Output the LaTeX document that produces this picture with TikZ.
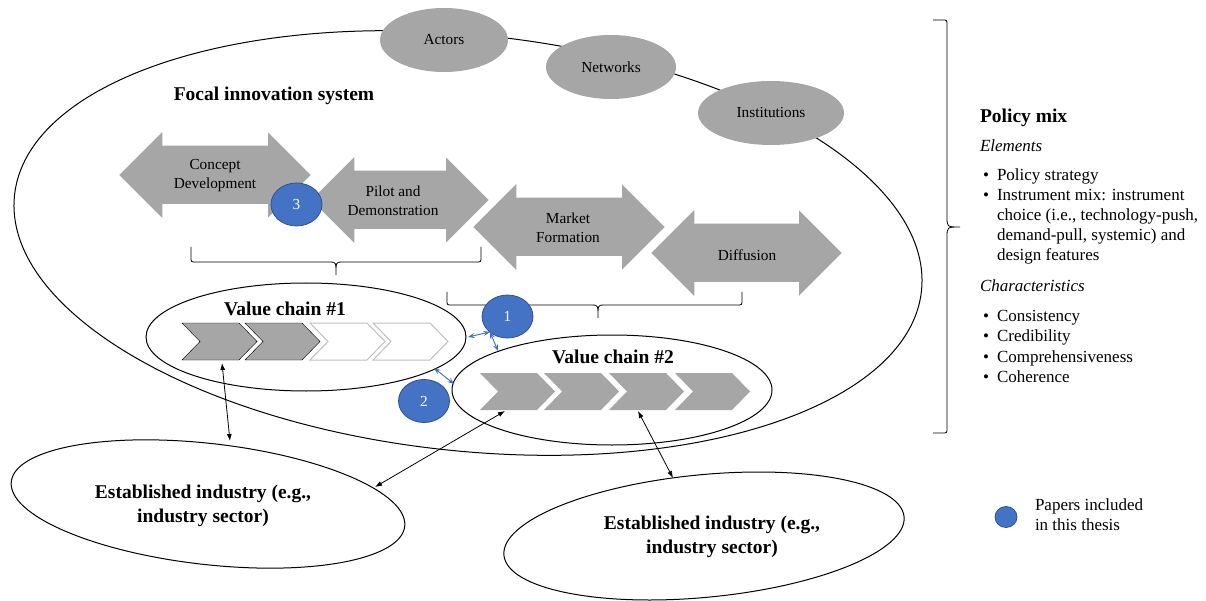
\documentclass[tikz,border=0pt]{standalone}
\usepackage{fontspec}
\setmainfont{Liberation Serif}
\usetikzlibrary{arrows.meta,shapes.geometric}
\definecolor{arrowgray}{HTML}{A6A6A6}
\definecolor{paperblue}{HTML}{4472C4}
\definecolor{paperedge}{HTML}{2F528F}
\definecolor{chevline}{HTML}{BFBFBF}
\newcommand\lblfont{\fontsize{15.3}{19}\selectfont}
\newcommand\txtfont{\fontsize{17}{20.5}\selectfont}
\newcommand\hdfont{\fontsize{19.5}{24}\selectfont\bfseries}
\begin{document}
\begin{tikzpicture}[x=1pt,y=-1pt,
  every node/.style={inner sep=0pt, outer sep=0pt},
  phase/.style={fill=arrowgray, draw=white, line width=1.5pt, line join=miter},
  phaselbl/.style={font=\lblfont, align=center},
  pillar/.style={ellipse, fill=arrowgray, minimum height=64pt, font=\lblfont},
  paper/.style={ellipse, fill=paperblue, draw=paperedge, line width=0.8pt, minimum width=51pt, minimum height=43pt, text=white, font=\lblfont},
  chevfull/.style={fill=arrowgray},
  chevopen/.style={fill=white, draw=chevline, line width=1pt},
  link/.style={{Latex[length=7pt,width=5pt]}-{Latex[length=7pt,width=5pt]}, line width=0.8pt},
  bluelink/.style={{Stealth[length=6.5pt,width=5pt]}-{Stealth[length=6.5pt,width=5pt]}, draw=paperblue, fill=paperblue, line width=0.9pt},
  heading/.style={font=\hdfont, align=center},
  outline/.style={line width=1pt},
  bracket/.style={line width=0.8pt},
  sidetext/.style={font=\txtfont, anchor=base west}
]
\useasboundingbox (0,0) rectangle (1206,601);

% focal innovation system
\draw[outline, rotate around={-6:(468,243)}] (468,243) ellipse [x radius=456, y radius=208];
\node[pillar, minimum width=128pt] (actors) at (444,40) {Actors};
\node[pillar, minimum width=130pt] (networks) at (611,67) {Networks};
\node[pillar, minimum width=146pt] (institutions) at (771,113) {Institutions};
\node[heading] (focal) at (274,96) {Focal innovation system};

% phases
\filldraw[phase] (118,175) -- (163,130) -- (163,145) -- (267,145) -- (267,130) -- (312,175) -- (267,220) -- (267,205) -- (163,205) -- (163,220) -- cycle;
\filldraw[phase] (310,200) -- (355,155) -- (355,170) -- (445,170) -- (445,155) -- (490,200) -- (445,245) -- (445,230) -- (355,230) -- (355,245) -- cycle;
\filldraw[phase] (472,227) -- (517,182) -- (517,197) -- (621,197) -- (621,182) -- (666,227) -- (621,272) -- (621,257) -- (517,257) -- (517,272) -- cycle;
\filldraw[phase] (650,253) -- (695,208) -- (695,223) -- (798,223) -- (798,208) -- (843,253) -- (798,298) -- (798,283) -- (695,283) -- (695,298) -- cycle;
\node[phaselbl] (concept) at (215,176) {Concept\\Development};
\node[phaselbl] (pilot) at (393,201) {Pilot and\\Demonstration};
\node[phaselbl] (market) at (568,228) {Market\\Formation};
\node[phaselbl] (diffusion) at (747,255) {Diffusion};
\node[paper] (p3) at (296.5,204.5) {3};

% braces under phases
\draw[bracket] (191,247) -- (191,257) .. controls (191,262) .. (196,262) -- (330,262) .. controls (336,262) .. (336,275) .. controls (336,262) .. (342,262) -- (476,262) .. controls (481,262) .. (481,257) -- (481,247);
\draw[bracket] (447,292) -- (447,300) .. controls (447,305) .. (452,305) -- (592,305) .. controls (598,305) .. (598,318) .. controls (598,305) .. (604,305) -- (737,305) .. controls (742,305) .. (742,300) -- (742,292);

% value chain 1
\draw[outline] (306,337) ellipse [x radius=160, y radius=54];
\node[heading] (vc1) at (285,309) {Value chain \#1};
\foreach \x/\s in {182/chevfull,245/chevfull,310/chevopen,373/chevopen}
  \filldraw[\s] (\x,323) -- (\x+57,323) -- (\x+75,341.5) -- (\x+57,360) -- (\x,360) -- (\x+18,341.5) -- cycle;

% value chain 2
\draw[outline] (612,390) ellipse [x radius=160, y radius=55];
\node[heading] (vc2) at (613,357) {Value chain \#2};
\foreach \x in {480,544,609,675}
  \fill[chevfull] (\x,373) -- (\x+57,373) -- (\x+75,391.5) -- (\x+57,410) -- (\x,410) -- (\x+18,391.5) -- cycle;

% papers 1 and 2
\node[paper] (p1) at (507.5,316.5) {1};
\node[paper] (p2) at (424,401) {2};
\coordinate (j1) at (490,332);
\coordinate (vc1r) at (468,337);
\coordinate (vc2t) at (498,351);
\coordinate (vc1b) at (434,368);
\coordinate (vc2l) at (454,384);
\draw[bluelink] (j1) -- (vc1r);
\draw[bluelink] (j1) -- (vc2t);
\draw[bluelink] (vc1b) -- (vc2l);

% established industries
\draw[outline, rotate around={-6.5:(208,504)}] (208,504) ellipse [x radius=198, y radius=60.5];
\node[heading] (ei1) at (203,506) {Established industry (e.g.,\\industry sector)};
\draw[outline, rotate around={5.5:(704,536)}] (704,536) ellipse [x radius=201, y radius=61.3];
\node[heading] (ei2) at (712,537) {Established industry (e.g.,\\industry sector)};

\coordinate (c1a) at (222,363);
\coordinate (c1b) at (230,441);
\coordinate (c2a) at (505,411);
\coordinate (c2b) at (375,487);
\coordinate (c3a) at (638,411);
\coordinate (c3b) at (673,478);
\draw[link] (c1a) -- (c1b);
\draw[link] (c2a) -- (c2b);
\draw[link] (c3a) -- (c3b);

% policy mix brace
\draw[bracket] (933,20) -- (942,20) .. controls (947,20) .. (947,25) -- (947,217) .. controls (947,227) .. (960,227) .. controls (947,227) .. (947,237) -- (947,428) .. controls (947,433) .. (942,433) -- (933,433);

\node[font=\hdfont, anchor=base west] (pm) at (980,123) {Policy mix};
\node[sidetext] (elem) at (980,152) {\itshape Elements};
\node[sidetext] (b1) at (983,181) {•};
\node[sidetext] (e1) at (997,181) {Policy strategy};
\node[sidetext] (b2) at (983,201) {•};
\node[sidetext] (e2a) at (997,201) {Instrument mix: instrument};
\node[sidetext] (e2b) at (997,221) {choice (i.e., technology-push,};
\node[sidetext] (e2c) at (997,241) {demand-pull, systemic) and};
\node[sidetext] (e2d) at (997,261) {design features};
\node[sidetext] (char) at (980,292) {\itshape Characteristics};
\node[sidetext] (b3) at (983,321) {•};
\node[sidetext] (c1) at (997,321) {Consistency};
\node[sidetext] (b4) at (983,341.5) {•};
\node[sidetext] (c2) at (997,341.5) {Credibility};
\node[sidetext] (b5) at (983,362) {•};
\node[sidetext] (c3) at (997,362) {Comprehensiveness};
\node[sidetext] (b6) at (983,382.5) {•};
\node[sidetext] (c4) at (997,382.5) {Coherence};

% legend
\node[ellipse, fill=paperblue, draw=paperedge, line width=0.8pt, minimum width=22pt, minimum height=21pt] (legend) at (1006,517) {};
\node[sidetext] (lg1) at (1035,510) {Papers included};
\node[sidetext] (lg2) at (1035,530) {in this thesis};
\end{tikzpicture}
\end{document}
